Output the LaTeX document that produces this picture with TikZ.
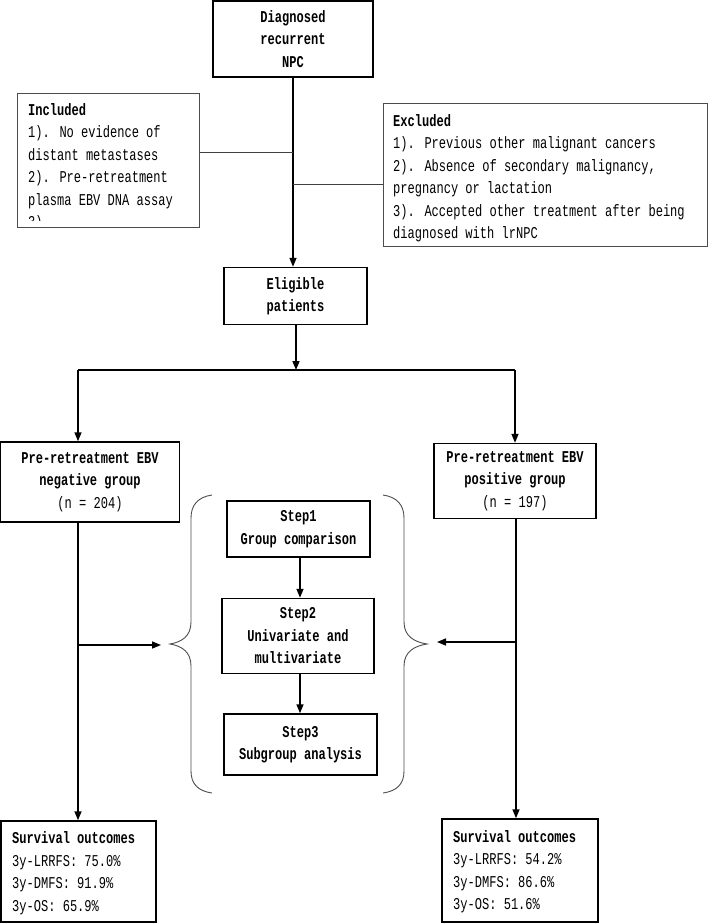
\documentclass[tikz,border=0pt]{standalone}
\usepackage{fontspec}
\setmainfont[FakeStretch=0.73]{Liberation Mono}
\usetikzlibrary{arrows.meta}
\tikzset{
  box/.style={draw=black, line width=1.5pt, inner sep=0pt, align=center,
    font=\fontsize{16.5pt}{22.5pt}\selectfont},
  crit/.style={draw=black!70, line width=1pt, inner sep=0pt},
  txt/.style={inner sep=0pt, align=left, font=\fontsize{16.5pt}{22.5pt}\selectfont},
  arr/.style={line width=1.5pt, -{Triangle[length=9pt,width=7pt]}},
  plain/.style={line width=1.5pt},
  thin/.style={line width=0.9pt, draw=black!75},
  brace/.style={draw=black!70, line width=0.9pt}
}
\begin{document}
\begin{tikzpicture}[x=1pt,y=-1pt]
\useasboundingbox (0,0) rectangle (709,924);

% boxes
\node[box, minimum width=160pt, minimum height=76pt] (top) at (293,39)
  {\textbf{Diagnosed}\\\textbf{recurrent}\\\textbf{NPC}};
\node[crit, minimum width=182pt, minimum height=134pt] (incl) at (108,160) {};
\begin{scope}
  \clip (17,93) rectangle (199,220);
  \node[txt, anchor=west] (incltxt) at (28,167)
    {\textbf{Included}\\1). No evidence of\\distant metastases\\2). Pre-retreatment\\plasma EBV DNA assay\\3).};
\end{scope}
\node[crit, minimum width=324pt, minimum height=143pt] (excl) at (545,174.5) {};
\node[txt, anchor=west] (excltxt) at (393,178)
  {\textbf{Excluded}\\1). Previous other malignant cancers\\2). Absence of secondary malignancy,\\pregnancy or lactation\\3). Accepted other treatment after being\\diagnosed with lrNPC};
\node[box, minimum width=143pt, minimum height=57pt] (elig) at (295.5,296)
  {\textbf{Eligible}\\\textbf{patients}};
\node[box, minimum width=179pt, minimum height=80pt] (neg) at (90,482)
  {\textbf{Pre-retreatment EBV}\\\textbf{negative group}\\(n = 204)};
\node[box, minimum width=162pt, minimum height=75pt] (pos) at (515,481)
  {\textbf{Pre-retreatment EBV}\\\textbf{positive group}\\(n = 197)};
\node[box, minimum width=143pt, minimum height=56pt] (s1) at (298.5,529)
  {\textbf{Step1}\\\textbf{Group comparison}};
\node[box, minimum width=152pt, minimum height=75pt] (s2) at (298,636)
  {\textbf{Step2}\\\textbf{Univariate and}\\\textbf{multivariate}};
\node[box, minimum width=153pt, minimum height=61pt] (s3) at (300.5,744.5)
  {\textbf{Step3}\\\textbf{Subgroup analysis}};
\node[box, minimum width=155pt, minimum height=101pt] (survL) at (78.5,871.5) {};
\node[txt, anchor=west] (survLtxt) at (12,873)
  {\textbf{Survival outcomes}\\3y-LRRFS: 75.0\%\\3y-DMFS: 91.9\%\\3y-OS: 65.9\%};
\node[box, minimum width=156pt, minimum height=103pt] (survR) at (520,870.5) {};
\node[txt, anchor=west] (survRtxt) at (453,871.5)
  {\textbf{Survival outcomes}\\3y-LRRFS: 54.2\%\\3y-DMFS: 86.6\%\\3y-OS: 51.6\%};

% connectors
\draw[arr] (top.south) -- (top.south |- elig.north);
\coordinate (ji) at (293,152);
\coordinate (je) at (293,184);
\draw[thin] (incl.east |- ji) -- (ji);
\draw[thin] (je) -- (excl.west |- je);

\coordinate (split) at (296,370);
\coordinate (sl) at (78,370);
\coordinate (sr) at (515,370);
\draw[arr] (elig.south -| split) -- (split);
\draw[plain] (sl) -- (sr);
\draw[arr] (sl) -- (sl |- neg.north);
\draw[arr] (sr) -- (sr |- pos.north);

\coordinate (bl) at (78,645);
\coordinate (blt) at (161,645);
\coordinate (br) at (516,642);
\coordinate (brt) at (437,642);
\draw[arr] (neg.south -| bl) -- (bl |- survL.north);
\draw[arr] (pos.south -| br) -- (br |- survR.north);
\draw[arr] (bl) -- (blt);
\draw[arr] (br) -- (brt);

\draw[arr] (s1.south -| 300,0) -- (s2.north -| 300,0);
\draw[arr] (s2.south -| 300,0) -- (s3.north -| 300,0);

% braces
\draw[brace] (212,495) .. controls (198,497) and (191,505) .. (191,518)
  -- (191,622) .. controls (191,636) and (182,642) .. (170,644)
  .. controls (182,646) and (191,652) .. (191,666)
  -- (191,771) .. controls (191,784) and (198,791) .. (212,793);
\draw[brace] (383,495) .. controls (397,497) and (404,505) .. (404,518)
  -- (404,622) .. controls (404,636) and (414,642) .. (427,644)
  .. controls (414,646) and (404,652) .. (404,666)
  -- (404,771) .. controls (404,784) and (397,791) .. (383,793);
\end{tikzpicture}
\end{document}
